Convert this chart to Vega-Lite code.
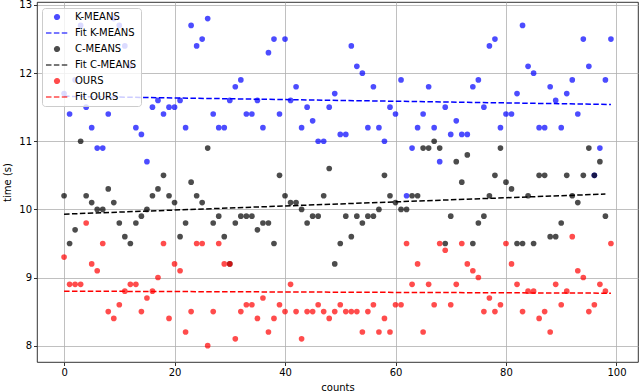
{
  "$schema": "https://vega.github.io/schema/vega-lite/v6.json",
  "width": 601,
  "height": 360,
  "padding": {"left": 37, "top": 2, "right": 2, "bottom": 30},
  "autosize": {"type": "none"},
  "config": {
    "font": "DejaVu Sans",
    "view": {"stroke": "#000000", "strokeWidth": 0.8},
    "axis": {
      "domain": false,
      "grid": true,
      "gridColor": "#b0b0b0",
      "gridWidth": 0.8,
      "tickColor": "#000000",
      "tickWidth": 0.8,
      "tickSize": 3.5,
      "labelFont": "DejaVu Sans",
      "labelFontSize": 10,
      "labelColor": "#000000",
      "titleFont": "DejaVu Sans",
      "titleFontSize": 10,
      "titleFontWeight": "normal",
      "titleColor": "#000000",
      "zindex": 1
    }
  },
  "datasets": {
    "pts": [
      {"c":0,"t":11.7,"s":"K-MEANS"},{"c":1,"t":11.4,"s":"K-MEANS"},{"c":2,"t":11.9,"s":"K-MEANS"},{"c":3,"t":12.7,"s":"K-MEANS"},{"c":4,"t":11.5,"s":"K-MEANS"},{"c":5,"t":11.2,"s":"K-MEANS"},{"c":6,"t":10.9,"s":"K-MEANS"},{"c":7,"t":10.9,"s":"K-MEANS"},{"c":8,"t":11.4,"s":"K-MEANS"},{"c":9,"t":12.8,"s":"K-MEANS"},
      {"c":10,"t":12.7,"s":"K-MEANS"},{"c":11,"t":12.4,"s":"K-MEANS"},{"c":12,"t":12.1,"s":"K-MEANS"},{"c":13,"t":11.2,"s":"K-MEANS"},{"c":14,"t":11.1,"s":"K-MEANS"},{"c":15,"t":10.7,"s":"K-MEANS"},{"c":16,"t":11.5,"s":"K-MEANS"},{"c":17,"t":11.6,"s":"K-MEANS"},{"c":18,"t":11.4,"s":"K-MEANS"},{"c":19,"t":11.5,"s":"K-MEANS"},
      {"c":20,"t":11.5,"s":"K-MEANS"},{"c":21,"t":11.6,"s":"K-MEANS"},{"c":22,"t":11.2,"s":"K-MEANS"},{"c":23,"t":12.7,"s":"K-MEANS"},{"c":24,"t":12.4,"s":"K-MEANS"},{"c":25,"t":12.5,"s":"K-MEANS"},{"c":26,"t":12.8,"s":"K-MEANS"},{"c":27,"t":11.4,"s":"K-MEANS"},{"c":28,"t":11.2,"s":"K-MEANS"},{"c":29,"t":11.2,"s":"K-MEANS"},
      {"c":30,"t":11.6,"s":"K-MEANS"},{"c":31,"t":11.8,"s":"K-MEANS"},{"c":32,"t":11.9,"s":"K-MEANS"},{"c":33,"t":11.4,"s":"K-MEANS"},{"c":34,"t":11.4,"s":"K-MEANS"},{"c":35,"t":11.6,"s":"K-MEANS"},{"c":36,"t":11.2,"s":"K-MEANS"},{"c":37,"t":12.3,"s":"K-MEANS"},{"c":38,"t":12.5,"s":"K-MEANS"},{"c":39,"t":11.4,"s":"K-MEANS"},
      {"c":40,"t":12.5,"s":"K-MEANS"},{"c":41,"t":11.6,"s":"K-MEANS"},{"c":42,"t":11.8,"s":"K-MEANS"},{"c":43,"t":11.2,"s":"K-MEANS"},{"c":44,"t":11.5,"s":"K-MEANS"},{"c":45,"t":11.3,"s":"K-MEANS"},{"c":46,"t":11.0,"s":"K-MEANS"},{"c":47,"t":11.0,"s":"K-MEANS"},{"c":48,"t":11.5,"s":"K-MEANS"},{"c":49,"t":11.7,"s":"K-MEANS"},
      {"c":50,"t":11.1,"s":"K-MEANS"},{"c":51,"t":11.1,"s":"K-MEANS"},{"c":52,"t":12.4,"s":"K-MEANS"},{"c":53,"t":12.1,"s":"K-MEANS"},{"c":54,"t":12.0,"s":"K-MEANS"},{"c":55,"t":11.2,"s":"K-MEANS"},{"c":56,"t":11.8,"s":"K-MEANS"},{"c":57,"t":11.2,"s":"K-MEANS"},{"c":58,"t":11.0,"s":"K-MEANS"},{"c":59,"t":11.5,"s":"K-MEANS"},
      {"c":60,"t":11.4,"s":"K-MEANS"},{"c":61,"t":11.9,"s":"K-MEANS"},{"c":62,"t":10.2,"s":"K-MEANS"},{"c":63,"t":10.9,"s":"K-MEANS"},{"c":64,"t":11.2,"s":"K-MEANS"},{"c":65,"t":11.4,"s":"K-MEANS"},{"c":66,"t":11.8,"s":"K-MEANS"},{"c":67,"t":11.2,"s":"K-MEANS"},{"c":68,"t":10.7,"s":"K-MEANS"},{"c":69,"t":11.5,"s":"K-MEANS"},
      {"c":70,"t":11.1,"s":"K-MEANS"},{"c":71,"t":11.3,"s":"K-MEANS"},{"c":72,"t":11.1,"s":"K-MEANS"},{"c":73,"t":11.1,"s":"K-MEANS"},{"c":74,"t":11.8,"s":"K-MEANS"},{"c":75,"t":11.9,"s":"K-MEANS"},{"c":76,"t":11.5,"s":"K-MEANS"},{"c":77,"t":12.4,"s":"K-MEANS"},{"c":78,"t":12.5,"s":"K-MEANS"},{"c":79,"t":11.2,"s":"K-MEANS"},
      {"c":80,"t":11.4,"s":"K-MEANS"},{"c":81,"t":11.4,"s":"K-MEANS"},{"c":82,"t":11.7,"s":"K-MEANS"},{"c":83,"t":12.7,"s":"K-MEANS"},{"c":84,"t":12.1,"s":"K-MEANS"},{"c":85,"t":12.0,"s":"K-MEANS"},{"c":86,"t":11.2,"s":"K-MEANS"},{"c":87,"t":11.2,"s":"K-MEANS"},{"c":88,"t":11.8,"s":"K-MEANS"},{"c":89,"t":11.6,"s":"K-MEANS"},
      {"c":90,"t":11.2,"s":"K-MEANS"},{"c":91,"t":11.7,"s":"K-MEANS"},{"c":92,"t":11.9,"s":"K-MEANS"},{"c":93,"t":11.4,"s":"K-MEANS"},{"c":94,"t":12.5,"s":"K-MEANS"},{"c":95,"t":12.1,"s":"K-MEANS"},{"c":96,"t":10.5,"s":"K-MEANS"},{"c":97,"t":10.9,"s":"K-MEANS"},{"c":98,"t":11.9,"s":"K-MEANS"},{"c":99,"t":12.5,"s":"K-MEANS"},

      {"c":0,"t":10.2,"s":"C-MEANS"},{"c":1,"t":9.5,"s":"C-MEANS"},{"c":2,"t":9.7,"s":"C-MEANS"},{"c":3,"t":11.0,"s":"C-MEANS"},{"c":4,"t":10.2,"s":"C-MEANS"},{"c":5,"t":10.1,"s":"C-MEANS"},{"c":6,"t":10.0,"s":"C-MEANS"},{"c":7,"t":10.0,"s":"C-MEANS"},{"c":8,"t":10.3,"s":"C-MEANS"},{"c":9,"t":10.1,"s":"C-MEANS"},
      {"c":10,"t":9.8,"s":"C-MEANS"},{"c":11,"t":9.6,"s":"C-MEANS"},{"c":12,"t":9.5,"s":"C-MEANS"},{"c":13,"t":9.8,"s":"C-MEANS"},{"c":14,"t":9.9,"s":"C-MEANS"},{"c":15,"t":10.0,"s":"C-MEANS"},{"c":16,"t":10.2,"s":"C-MEANS"},{"c":17,"t":10.3,"s":"C-MEANS"},{"c":18,"t":10.5,"s":"C-MEANS"},{"c":19,"t":10.2,"s":"C-MEANS"},
      {"c":20,"t":10.1,"s":"C-MEANS"},{"c":21,"t":9.6,"s":"C-MEANS"},{"c":22,"t":9.8,"s":"C-MEANS"},{"c":23,"t":10.4,"s":"C-MEANS"},{"c":24,"t":10.2,"s":"C-MEANS"},{"c":25,"t":10.1,"s":"C-MEANS"},{"c":26,"t":10.9,"s":"C-MEANS"},{"c":27,"t":9.8,"s":"C-MEANS"},{"c":28,"t":9.9,"s":"C-MEANS"},{"c":29,"t":9.6,"s":"C-MEANS"},
      {"c":30,"t":9.2,"s":"C-MEANS"},{"c":31,"t":9.8,"s":"C-MEANS"},{"c":32,"t":9.9,"s":"C-MEANS"},{"c":33,"t":9.9,"s":"C-MEANS"},{"c":34,"t":9.9,"s":"C-MEANS"},{"c":35,"t":9.7,"s":"C-MEANS"},{"c":36,"t":9.8,"s":"C-MEANS"},{"c":37,"t":9.8,"s":"C-MEANS"},{"c":38,"t":9.5,"s":"C-MEANS"},{"c":39,"t":10.5,"s":"C-MEANS"},
      {"c":40,"t":10.2,"s":"C-MEANS"},{"c":41,"t":10.1,"s":"C-MEANS"},{"c":42,"t":10.1,"s":"C-MEANS"},{"c":43,"t":10.0,"s":"C-MEANS"},{"c":44,"t":9.8,"s":"C-MEANS"},{"c":45,"t":9.9,"s":"C-MEANS"},{"c":46,"t":9.9,"s":"C-MEANS"},{"c":47,"t":10.2,"s":"C-MEANS"},{"c":48,"t":10.6,"s":"C-MEANS"},{"c":49,"t":9.2,"s":"C-MEANS"},
      {"c":50,"t":9.5,"s":"C-MEANS"},{"c":51,"t":9.9,"s":"C-MEANS"},{"c":52,"t":9.6,"s":"C-MEANS"},{"c":53,"t":9.9,"s":"C-MEANS"},{"c":54,"t":9.8,"s":"C-MEANS"},{"c":55,"t":9.9,"s":"C-MEANS"},{"c":56,"t":9.9,"s":"C-MEANS"},{"c":57,"t":10.0,"s":"C-MEANS"},{"c":58,"t":10.5,"s":"C-MEANS"},{"c":59,"t":10.2,"s":"C-MEANS"},
      {"c":60,"t":10.1,"s":"C-MEANS"},{"c":61,"t":10.0,"s":"C-MEANS"},{"c":62,"t":10.0,"s":"C-MEANS"},{"c":63,"t":10.2,"s":"C-MEANS"},{"c":64,"t":10.2,"s":"C-MEANS"},{"c":65,"t":10.9,"s":"C-MEANS"},{"c":66,"t":10.9,"s":"C-MEANS"},{"c":67,"t":11.0,"s":"C-MEANS"},{"c":68,"t":10.9,"s":"C-MEANS"},{"c":69,"t":9.5,"s":"C-MEANS"},
      {"c":70,"t":9.9,"s":"C-MEANS"},{"c":71,"t":10.7,"s":"C-MEANS"},{"c":72,"t":10.4,"s":"C-MEANS"},{"c":73,"t":10.8,"s":"C-MEANS"},{"c":74,"t":9.5,"s":"C-MEANS"},{"c":75,"t":9.8,"s":"C-MEANS"},{"c":76,"t":9.9,"s":"C-MEANS"},{"c":77,"t":10.2,"s":"C-MEANS"},{"c":78,"t":10.5,"s":"C-MEANS"},{"c":79,"t":10.9,"s":"C-MEANS"},
      {"c":80,"t":10.4,"s":"C-MEANS"},{"c":81,"t":10.3,"s":"C-MEANS"},{"c":82,"t":9.5,"s":"C-MEANS"},{"c":83,"t":9.5,"s":"C-MEANS"},{"c":84,"t":10.2,"s":"C-MEANS"},{"c":85,"t":9.5,"s":"C-MEANS"},{"c":86,"t":10.5,"s":"C-MEANS"},{"c":87,"t":10.5,"s":"C-MEANS"},{"c":88,"t":9.6,"s":"C-MEANS"},{"c":89,"t":9.6,"s":"C-MEANS"},
      {"c":90,"t":9.8,"s":"C-MEANS"},{"c":91,"t":10.5,"s":"C-MEANS"},{"c":92,"t":10.2,"s":"C-MEANS"},{"c":93,"t":10.1,"s":"C-MEANS"},{"c":94,"t":10.5,"s":"C-MEANS"},{"c":95,"t":10.9,"s":"C-MEANS"},{"c":96,"t":10.5,"s":"C-MEANS"},{"c":97,"t":10.7,"s":"C-MEANS"},{"c":98,"t":9.9,"s":"C-MEANS"},

      {"c":0,"t":9.3,"s":"OURS"},{"c":1,"t":8.9,"s":"OURS"},{"c":2,"t":8.9,"s":"OURS"},{"c":3,"t":8.9,"s":"OURS"},{"c":4,"t":9.8,"s":"OURS"},{"c":5,"t":9.2,"s":"OURS"},{"c":6,"t":9.1,"s":"OURS"},{"c":7,"t":9.5,"s":"OURS"},{"c":8,"t":8.5,"s":"OURS"},{"c":9,"t":8.4,"s":"OURS"},
      {"c":10,"t":8.6,"s":"OURS"},{"c":11,"t":8.8,"s":"OURS"},{"c":12,"t":8.9,"s":"OURS"},{"c":13,"t":8.9,"s":"OURS"},{"c":14,"t":8.5,"s":"OURS"},{"c":15,"t":8.7,"s":"OURS"},{"c":16,"t":8.8,"s":"OURS"},{"c":17,"t":9.0,"s":"OURS"},{"c":18,"t":9.5,"s":"OURS"},{"c":19,"t":8.4,"s":"OURS"},
      {"c":20,"t":9.2,"s":"OURS"},{"c":21,"t":9.1,"s":"OURS"},{"c":22,"t":8.2,"s":"OURS"},{"c":23,"t":8.5,"s":"OURS"},{"c":24,"t":9.5,"s":"OURS"},{"c":25,"t":9.5,"s":"OURS"},{"c":26,"t":8.0,"s":"OURS"},{"c":27,"t":8.5,"s":"OURS"},{"c":28,"t":9.5,"s":"OURS"},{"c":29,"t":9.2,"s":"OURS"},
      {"c":30,"t":9.2,"s":"OURS"},{"c":31,"t":8.1,"s":"OURS"},{"c":32,"t":8.5,"s":"OURS"},{"c":33,"t":8.6,"s":"OURS"},{"c":34,"t":8.6,"s":"OURS"},{"c":35,"t":8.4,"s":"OURS"},{"c":36,"t":8.7,"s":"OURS"},{"c":37,"t":8.2,"s":"OURS"},{"c":38,"t":8.4,"s":"OURS"},{"c":39,"t":8.6,"s":"OURS"},
      {"c":40,"t":8.5,"s":"OURS"},{"c":41,"t":8.9,"s":"OURS"},{"c":42,"t":8.5,"s":"OURS"},{"c":43,"t":8.1,"s":"OURS"},{"c":44,"t":8.5,"s":"OURS"},{"c":45,"t":8.5,"s":"OURS"},{"c":46,"t":8.6,"s":"OURS"},{"c":47,"t":8.5,"s":"OURS"},{"c":48,"t":8.4,"s":"OURS"},{"c":49,"t":8.5,"s":"OURS"},
      {"c":50,"t":8.6,"s":"OURS"},{"c":51,"t":8.5,"s":"OURS"},{"c":52,"t":8.5,"s":"OURS"},{"c":53,"t":8.5,"s":"OURS"},{"c":54,"t":8.2,"s":"OURS"},{"c":55,"t":8.5,"s":"OURS"},{"c":56,"t":8.6,"s":"OURS"},{"c":57,"t":8.2,"s":"OURS"},{"c":58,"t":8.4,"s":"OURS"},{"c":59,"t":8.2,"s":"OURS"},
      {"c":60,"t":8.6,"s":"OURS"},{"c":61,"t":8.6,"s":"OURS"},{"c":62,"t":9.5,"s":"OURS"},{"c":63,"t":8.9,"s":"OURS"},{"c":64,"t":9.2,"s":"OURS"},{"c":65,"t":8.2,"s":"OURS"},{"c":66,"t":8.9,"s":"OURS"},{"c":67,"t":8.6,"s":"OURS"},{"c":68,"t":9.5,"s":"OURS"},{"c":69,"t":9.4,"s":"OURS"},
      {"c":70,"t":8.6,"s":"OURS"},{"c":71,"t":8.9,"s":"OURS"},{"c":72,"t":9.5,"s":"OURS"},{"c":73,"t":9.2,"s":"OURS"},{"c":74,"t":9.1,"s":"OURS"},{"c":75,"t":9.0,"s":"OURS"},{"c":76,"t":8.5,"s":"OURS"},{"c":77,"t":8.7,"s":"OURS"},{"c":78,"t":8.5,"s":"OURS"},{"c":79,"t":8.6,"s":"OURS"},
      {"c":80,"t":9.5,"s":"OURS"},{"c":81,"t":9.2,"s":"OURS"},{"c":82,"t":8.9,"s":"OURS"},{"c":83,"t":8.5,"s":"OURS"},{"c":84,"t":8.8,"s":"OURS"},{"c":85,"t":8.8,"s":"OURS"},{"c":86,"t":8.4,"s":"OURS"},{"c":87,"t":8.5,"s":"OURS"},{"c":88,"t":8.2,"s":"OURS"},{"c":89,"t":8.9,"s":"OURS"},
      {"c":90,"t":8.6,"s":"OURS"},{"c":91,"t":8.8,"s":"OURS"},{"c":92,"t":9.6,"s":"OURS"},{"c":93,"t":9.1,"s":"OURS"},{"c":94,"t":9.0,"s":"OURS"},{"c":95,"t":8.5,"s":"OURS"},{"c":96,"t":8.6,"s":"OURS"},{"c":97,"t":8.9,"s":"OURS"},{"c":98,"t":8.8,"s":"OURS"},{"c":99,"t":9.5,"s":"OURS"}
    ],
    "fits": [
      {"c":0,"t":11.66,"s":"Fit K-MEANS"},{"c":99,"t":11.54,"s":"Fit K-MEANS"},
      {"c":0,"t":9.93,"s":"Fit C-MEANS"},{"c":98,"t":10.225,"s":"Fit C-MEANS"},
      {"c":0,"t":8.80,"s":"Fit OURS"},{"c":99,"t":8.77,"s":"Fit OURS"}
    ]
  },
  "encoding": {
    "x": {"field": "c", "type": "quantitative", "title": "counts",
      "scale": {"domain": [-4.9, 103.9], "nice": false, "zero": false},
      "axis": {"values": [0, 20, 40, 60, 80, 100], "labelPadding": 2, "titlePadding": 5}},
    "y": {"field": "t", "type": "quantitative", "title": "time (s)",
      "scale": {"domain": [7.76, 13.044], "nice": false, "zero": false},
      "axis": {"values": [8, 9, 10, 11, 12, 13], "labelPadding": 2, "titlePadding": 6}},
    "color": {"field": "s", "type": "nominal",
      "scale": {"domain": ["K-MEANS", "Fit K-MEANS", "C-MEANS", "Fit C-MEANS", "OURS", "Fit OURS"],
                "range": ["#0000ff", "#0000ff", "#000000", "#000000", "#ff0000", "#ff0000"]},
      "legend": {
        "title": null, "orient": "none", "legendX": 5, "legendY": 6,
        "padding": 4, "fillColor": "rgba(255,255,255,0.8)", "strokeColor": "#cccccc", "cornerRadius": 3,
        "symbolSize": 22, "symbolOffset": 6, "labelOffset": 13, "rowPadding": 5,
        "labelFont": "DejaVu Sans", "labelFontSize": 10, "labelColor": "#000000"
      }}
  },
  "layer": [
    {"data": {"name": "pts"}, "transform": [{"filter": "datum.s === 'K-MEANS'"}],
     "mark": {"type": "point", "filled": true, "size": 32, "opacity": 0.7, "strokeWidth": 1.5},
     "encoding": {"shape": {"field": "s", "type": "nominal", "legend": {"title": null},
       "scale": {"domain": ["K-MEANS", "Fit K-MEANS", "C-MEANS", "Fit C-MEANS", "OURS", "Fit OURS"],
                 "range": ["circle", "M-4.7,0H4.7", "circle", "M-4.7,0H4.7", "circle", "M-4.7,0H4.7"]}}}},
    {"data": {"name": "fits"}, "transform": [{"filter": "datum.s === 'Fit K-MEANS'"}],
     "mark": {"type": "line", "strokeWidth": 1.5},
     "encoding": {"strokeDash": {"field": "s", "type": "nominal", "legend": {"title": null},
       "scale": {"domain": ["K-MEANS", "Fit K-MEANS", "C-MEANS", "Fit C-MEANS", "OURS", "Fit OURS"],
                 "range": [[1, 0], [5.5, 2.4], [1, 0], [5.5, 2.4], [1, 0], [5.5, 2.4]]}}}},
    {"data": {"name": "pts"}, "transform": [{"filter": "datum.s === 'C-MEANS'"}],
     "mark": {"type": "point", "filled": true, "size": 32, "opacity": 0.7, "strokeWidth": 1.5},
     "encoding": {"shape": {"field": "s", "type": "nominal", "legend": {"title": null}}}},
    {"data": {"name": "fits"}, "transform": [{"filter": "datum.s === 'Fit C-MEANS'"}],
     "mark": {"type": "line", "strokeWidth": 1.5},
     "encoding": {"strokeDash": {"field": "s", "type": "nominal", "legend": {"title": null}}}},
    {"data": {"name": "pts"}, "transform": [{"filter": "datum.s === 'OURS'"}],
     "mark": {"type": "point", "filled": true, "size": 32, "opacity": 0.7, "strokeWidth": 1.5},
     "encoding": {"shape": {"field": "s", "type": "nominal", "legend": {"title": null}}}},
    {"data": {"name": "fits"}, "transform": [{"filter": "datum.s === 'Fit OURS'"}],
     "mark": {"type": "line", "strokeWidth": 1.5},
     "encoding": {"strokeDash": {"field": "s", "type": "nominal", "legend": {"title": null}}}}
  ]
}
